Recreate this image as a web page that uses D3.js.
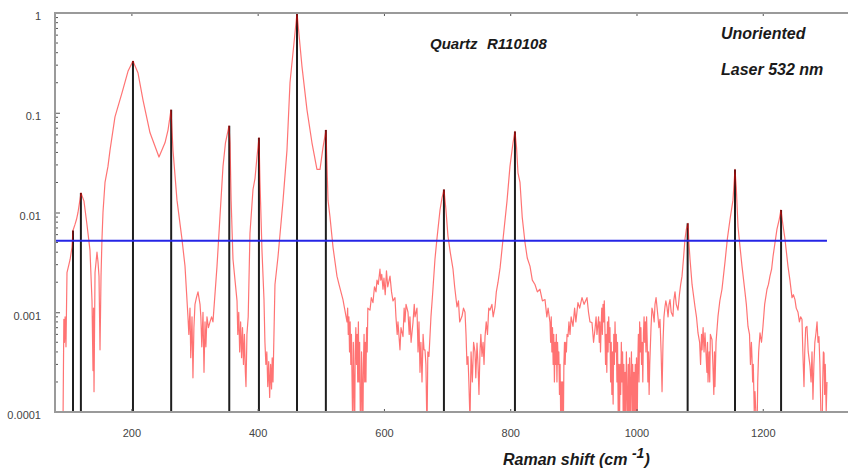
<!DOCTYPE html>
<html>
<head>
<meta charset="utf-8">
<script src="https://cdn.jsdelivr.net/npm/d3@7/dist/d3.min.js"></script>
<style>
  html, body { margin: 0; padding: 0; background: #fff; }
  svg { display: block; font-family: "Liberation Sans", Arial, sans-serif; }
</style>
</head>
<body>
<svg id="chart" width="848" height="473"></svg>
<script>
// ---- Data ----
const xTicks = [200, 400, 600, 800, 1000, 1200];
const yTicks = [0.0001, 0.001, 0.01, 0.1, 1];
const yTickLabels = ["0.0001", "0.001", "0.01", "0.1", "1"];

// Raman spectrum: [shift (cm-1), relative intensity]
const spectrum = [
  [91.7,8e-5],[93,0.00085],[94,0.0005],[95,0.0009],[96.4,0.00045],[98,0.0025],[101,0.003],[103,0.0034],[105.9,0.0045],
  [107.5,0.0066],[110.7,0.0076],[113,0.0085],[115.4,0.01],[120.2,0.0157],[124.9,0.013],[129.7,0.0075],[134.4,0.0042],
  [137.6,0.0013],[139.2,0.00026],[140,0.0011],[140.8,0.00016],[142.4,0.0025],[145.5,0.004],[147.1,0.0032],[148.7,0.0023],
  [150.3,0.00042],[151.9,0.0023],[153.4,0.0054],[155,0.01],[158.2,0.02],[162.9,0.029],[166.1,0.042],[174,0.091],
  [185.1,0.158],[194.6,0.26],[202.5,0.33],[210.5,0.25],[218.4,0.134],[229.5,0.063],[243.7,0.036],[253.2,0.05],[258,0.067],
  [262.7,0.107],[265.9,0.042],[272.2,0.0133],[280.1,0.0054],[284.9,0.0029],[289.6,0.0009],[291,0.0006],[292.8,0.0011],
  [294,0.00035],[296,0.0009],[297.5,0.00022],[299,0.0007],[300.7,0.0012],[303,0.0014],[305.5,0.0016],[308.7,0.0012],
  [310,0.0009],[311.5,0.00045],[313.4,0.001],[315,0.00025],[316.6,0.0008],[318,0.00045],[319.7,0.0009],[322,0.0007],
  [324.5,0.0008],[327,0.0009],[329.2,0.0008],[335.6,0.0029],[340.3,0.0091],[345.1,0.029],[349,0.05],[354.6,0.074],
  [356.2,0.05],[358,0.013],[360.9,0.0034],[367.3,0.0013],[368.5,0.0006],[370,0.001],[371.5,0.0004],[373,0.0008],
  [374.5,0.00035],[376,0.0007],[377.5,0.0003],[379,0.0006],[380.5,0.00025],[381.5,0.00018],[383,0.0006],[385,0.0009],
  [387.8,0.0062],[392.6,0.017],[395.8,0.022],[398.9,0.036],[402.1,0.056],[403.7,0.02],[406.8,0.0042],[410,0.00134],
  [411.5,0.0005],[413,0.0003],[414.5,0.0004],[416,0.00018],[417.5,0.00032],[419,0.00014],[420.5,0.0003],[422,0.00017],
  [423,0.00035],[424.3,0.0002],[427.4,0.0019],[432.2,0.0036],[440.1,0.013],[446.4,0.042],[451.2,0.2],[459.1,0.63],
  [462.3,1.0],[470.2,0.29],[478.1,0.107],[486,0.05],[493.9,0.027],[498.7,0.027],[503.5,0.045],[508.2,0.067],[511.4,0.0133],
  [514.5,0.0091],[519.3,0.0045],[525.6,0.0023],[528.8,0.0019],[535.1,0.00134],[541.5,0.0008],[542.5,0.0011],[543.5,0.0006],
  [544.5,0.0009],[545.5,0.0004],[546.5,0.0008],[547.5,0.0003],[548.5,0.0006],[549.5,0.0002],[550.5,7e-5],[551.5,0.0005],
  [552.5,0.0002],[553.5,5e-5],[554.5,0.0004],[555.5,0.0007],[556.5,0.0003],[557.5,0.0006],[558.5,0.0002],[559.5,0.0008],
  [560.5,0.0002],[561.5,0.0005],[562.5,0.0001],[563.5,6e-5],[564.5,0.0004],[565.5,0.0002],[566.5,5e-5],[567.5,0.0003],
  [568.5,0.0006],[569.5,0.0002],[570.5,0.0005],[571.5,0.0002],[572.5,0.0007],[573.5,0.0004],[574.5,0.0011],[577.9,0.00105],
  [580,0.0014],[582.6,0.00125],[585,0.0018],[587.4,0.0016],[589,0.0021],[591,0.0019],[593.7,0.0027],[595,0.0021],
  [596.5,0.0024],[598.5,0.0017],[600,0.0022],[602,0.0015],[604,0.0026],[606,0.0018],[609.6,0.0023],[612,0.0016],
  [614.3,0.0013],[617.5,0.0014],[619,0.0009],[621,0.0006],[622.2,0.0008],[625.4,0.00042],[627,0.0007],[630.2,0.00057],
  [632,0.0011],[633.3,0.0008],[635,0.0012],[638.1,0.001],[640,0.0006],[641.2,0.0009],[643,0.0005],[646,0.00079],
  [648,0.0012],[649.2,0.0009],[652.3,0.0011],[654,0.0004],[655.5,0.0008],[657.1,0.00025],[658.5,0.0005],[660.3,0.0002],
  [662,0.0006],[663.5,0.00042],[665,0.00042],[666.5,0.0003],[668.2,6e-5],[669.5,0.0004],[671.3,0.00036],[674.5,0.00091],
  [677,0.0015],[680.8,0.0034],[684,0.0055],[688.8,0.0106],[692,0.014],[695.1,0.017],[698,0.011],[701.4,0.0058],
  [705,0.004],[709.4,0.0027],[712,0.0018],[715.7,0.00113],[718,0.0013],[720,0.0008],[723.6,0.00091],[726,0.0011],
  [728.4,0.001],[730,0.0006],[731.5,0.0003],[733.1,0.00036],[734.5,0.0002],[736.3,8e-5],[738,0.0004],[740,0.0002],
  [742,0.0005],[744.2,0.0004],[745.5,0.00022],[747.4,0.00049],[749,0.0003],[750.5,0.00015],[752.1,0.0004],[753.5,0.0006],
  [755.3,0.00036],[757,0.0005],[758.5,0.0003],[760.1,0.00057],[762,0.0008],[764,0.0006],[766,0.0011],[768,0.00105],
  [771,0.0012],[773,0.0009],[775.9,0.00113],[778,0.0016],[780.7,0.002],[784,0.0028],[788.6,0.0054],[794.9,0.013],
  [799.6,0.029],[804.4,0.05],[807.5,0.065],[810,0.045],[812.3,0.025],[815.5,0.02],[819,0.009],[823.4,0.005],[827,0.0035],
  [831.3,0.0029],[835,0.0021],[839.2,0.0019],[843,0.0016],[847.1,0.0017],[851,0.0013],[855.1,0.00134],[858,0.0009],
  [860,0.0011],[863,0.00079],[864,0.0005],[865,0.0009],[866,0.0004],[867,0.0007],[868,0.0003],[869,0.0006],[870,0.0002],
  [871,0.0005],[872,0.0003],[873,0.0006],[874,0.0002],[875,0.0005],[876,0.0003],[877,0.0004],[878,0.00015],[879,0.0003],
  [880,8e-5],[881,0.0002],[882,5e-5],[883,0.0002],[884,5e-5],[885,0.0003],[886,0.0005],[887,0.0003],[888,0.0005],
  [889,0.0004],[890,0.0006],[891.5,0.00057],[893,0.0008],[894.7,0.0006],[896.5,0.0009],[899.4,0.00072],[902,0.0011],
  [904,0.0008],[907.3,0.00125],[910,0.0011],[913.7,0.0014],[917,0.0012],[921.6,0.0014],[924,0.001],[926.3,0.0008],
  [929.5,0.00079],[932,0.0005],[934.3,0.00068],[936,0.0009],[937.4,0.0006],[940,0.0009],[941,0.0005],[942,0.0008],
  [943,0.0004],[944,0.0007],[945,0.0011],[946,0.0006],[947,0.0012],[948,0.0008],[949,0.0013],[950,0.0007],[951,0.0003],
  [952,0.0006],[953,0.00025],[954,0.0008],[955,0.0004],[956,0.0009],[957,0.0005],[958,0.0007],[959,0.0002],[960,0.0005],
  [961,0.00015],[962,0.0004],[963,0.00012],[964,0.0006],[965,0.0003],[966,0.0008],[967,0.0004],[968,0.0006],[969,0.0002],
  [970,0.0005],[971,0.0001],[972,0.0003],[973,6e-5],[974,0.0003],[975,0.00015],[976,0.0005],[977,0.0002],[978,0.0004],
  [979,8e-5],[980,0.0003],[981,6e-5],[982,0.00025],[983,0.0001],[984,0.0004],[985,0.00015],[986,5e-5],[987,0.0003],
  [988,0.0001],[989,0.00035],[990,5e-5],[991,0.0002],[992,0.0004],[993,0.0001],[994,0.0003],[995,5e-5],[996,0.00025],
  [997,6e-5],[998,0.0003],[999,0.0001],[1000,0.00035],[1001,5e-5],[1002,0.0003],[1003,0.0006],[1004,0.0002],[1005,0.0008],
  [1006,0.0004],[1007,0.0007],[1008,0.0003],[1009,0.0005],[1010,0.0002],[1011,0.0006],[1012,0.0009],[1013,0.0005],
  [1014,0.0008],[1015,0.0004],[1016,0.0009],[1017,0.0005],[1018,0.0002],[1019,0.0004],[1020,0.00015],[1021,0.0003],
  [1023,0.0007],[1024.5,0.0011],[1026.1,0.001],[1028,0.0008],[1029.3,0.0012],[1031,0.0014],[1032.5,0.00113],[1034,0.0009],
  [1035.5,0.0007],[1037.2,0.00085],[1039,0.0004],[1040.5,0.00016],[1042,0.0005],[1043.5,0.0009],[1045.1,0.00113],
  [1046.5,0.0013],[1048.3,0.00113],[1050,0.0009],[1051.5,0.0012],[1053.1,0.00134],[1055,0.001],[1057.8,0.00091],
  [1059,0.0013],[1061,0.0016],[1063,0.0012],[1065.7,0.00105],[1068,0.0015],[1070,0.0019],[1072.1,0.0023],[1074.5,0.0035],
  [1076.8,0.0054],[1079,0.0068],[1081.6,0.0078],[1083,0.005],[1084.8,0.0034],[1088,0.0019],[1092.7,0.00113],[1095,0.0009],
  [1097.4,0.00062],[1100,0.0005],[1101.5,0.0003],[1103,0.0006],[1103.8,0.00042],[1105.5,0.0007],[1107,0.0004],
  [1108.5,0.00062],[1110,0.0004],[1111.5,0.00025],[1112.5,0.0005],[1113.3,0.0002],[1115,0.0004],[1116,0.0002],
  [1117,0.0006],[1119.6,0.00053],[1121,0.0003],[1122.5,0.00015],[1123.5,0.0004],[1124.3,0.00018],[1126,0.0005],
  [1129.1,0.00091],[1132,0.0013],[1135.4,0.0017],[1138,0.0024],[1140.2,0.0032],[1144,0.0055],[1148.1,0.0085],
  [1152.8,0.0133],[1156,0.027],[1158,0.018],[1160.8,0.0072],[1164,0.0045],[1167.1,0.0029],[1171.8,0.0016],[1174,0.0012],
  [1176.6,0.00072],[1179,0.0006],[1180.5,0.0003],[1182,0.0005],[1182.9,0.00036],[1184,0.0002],[1185,0.0003],[1186.5,0.0001],
  [1187.7,0.00016],[1189,0.0001],[1190.8,5e-5],[1192,0.0002],[1193.5,0.0004],[1195.6,0.00062],[1198,0.0005],[1200.3,0.00072],
  [1203,0.0012],[1206.7,0.0017],[1209,0.0019],[1211.4,0.0023],[1214,0.0027],[1216.2,0.0036],[1219,0.0048],[1222.5,0.0068],
  [1226,0.0085],[1228.8,0.0106],[1232,0.0075],[1235.2,0.0054],[1239.9,0.0029],[1243,0.0021],[1246.3,0.0014],[1248.5,0.0015],
  [1251,0.00134],[1253,0.0011],[1255.8,0.001],[1258,0.0008],[1260,0.0009],[1262.1,0.00085],[1263.5,0.0004],[1265.3,0.00018],
  [1266.5,0.0004],[1268,0.0007],[1270,0.00072],[1272,0.0004],[1274.8,0.00029],[1276.5,0.0002],[1278,0.0004],[1279.5,0.000134],
  [1281,0.0003],[1282.5,0.0005],[1284.3,0.00062],[1286,0.0008],[1287.5,0.0005],[1289,0.00057],[1290.5,0.0003],[1292,0.0001],
  [1293.8,5e-5],[1295,0.0002],[1296,0.0004],[1297,0.00039],[1298,0.00015],[1299,0.0003],[1300.5,0.0001],[1301.7,0.0002]
];

const peakShift  = [107.5, 120, 202.5, 263, 355, 402, 462.3, 508, 695, 807.5, 1081, 1156, 1229];
const peakHeight = [0.0066, 0.0157, 0.33, 0.107, 0.074, 0.056, 1.0, 0.067, 0.017, 0.065, 0.0078, 0.027, 0.0106];

const thresholdValue = 0.0052;
const thresholdRange = [79, 1301.7];

const titleText = "Quartz";
const idText = "R110108";
const noteLines = ["Unoriented", "Laser 532 nm"];
const xTitle = "Raman shift (cm";
const xTitleSup = "-1";

// ---- Chart ----
const L = 55, T = 13, R = 848, B = 412;
const svg = d3.select("#chart");

const x = d3.scaleLinear().domain([79, 1335]).range([L, R]);
const y = d3.scaleLog().domain([1e-4, 1]).range([B, T]);

svg.append("defs").append("clipPath").attr("id", "plotclip")
  .append("rect").attr("x", L).attr("y", T).attr("width", R - L).attr("height", B - T);

const plot = svg.append("g").attr("clip-path", "url(#plotclip)");

// peak markers
plot.selectAll("line.peak").data(peakShift).enter().append("line")
  .attr("class", "peak")
  .attr("x1", d => x(d)).attr("x2", d => x(d))
  .attr("y1", y(1e-4)).attr("y2", (d, i) => y(peakHeight[i]))
  .attr("stroke", "#1e1e1e").attr("stroke-width", 2);

// spectrum
plot.append("path").datum(spectrum)
  .attr("fill", "none")
  .attr("stroke", "rgba(255,0,0,0.55)")
  .attr("stroke-width", 1.2)
  .attr("stroke-linejoin", "round")
  .attr("d", d3.line().x(d => x(d[0])).y(d => y(Math.max(d[1], 3e-5))));

// threshold line
plot.append("line")
  .attr("x1", x(thresholdRange[0])).attr("x2", x(thresholdRange[1]))
  .attr("y1", y(thresholdValue)).attr("y2", y(thresholdValue))
  .attr("stroke", "#2525e6").attr("stroke-width", 2);

// axes
const axisColor = "#9a9a9a";
const tickColor = "#555";
const labelColor = "#444";

const gx = svg.append("g").attr("transform", `translate(0,${B})`)
  .call(d3.axisBottom(x).tickValues(xTicks).tickSize(-3).tickPadding(17).tickFormat(d3.format("d")));
gx.select(".domain").remove();
gx.selectAll(".tick line").attr("stroke", tickColor);
gx.selectAll(".tick text").attr("fill", labelColor).attr("font-size", 11)
  .attr("font-family", "'Liberation Sans', Arial, sans-serif");

const gxt = svg.append("g").attr("transform", `translate(0,${T})`)
  .call(d3.axisTop(x).tickValues(xTicks).tickSize(-3).tickFormat(""));
gxt.select(".domain").remove();
gxt.selectAll(".tick line").attr("stroke", tickColor);

const gy = svg.append("g").attr("transform", `translate(${L},0)`)
  .call(d3.axisLeft(y).tickValues(yTicks).tickSize(-5).tickPadding(14)
    .tickFormat((d, i) => yTickLabels[i]));
gy.select(".domain").remove();
gy.selectAll(".tick line").attr("stroke", tickColor);
gy.selectAll(".tick text").attr("fill", labelColor).attr("font-size", 11).attr("dy", "0.62em")
  .attr("font-family", "'Liberation Sans', Arial, sans-serif");

// minor y ticks
const minor = [];
for (let e = -4; e < 0; e++) for (let m = 2; m <= 9; m++) minor.push(m * Math.pow(10, e));
svg.append("g").selectAll("line").data(minor).enter().append("line")
  .attr("x1", L).attr("x2", L + 3)
  .attr("y1", d => y(d)).attr("y2", d => y(d))
  .attr("stroke", tickColor).attr("stroke-width", 1);

// frame lines
svg.append("line").attr("x1", L).attr("x2", R).attr("y1", T).attr("y2", T)
  .attr("stroke", axisColor).attr("stroke-width", 2);
svg.append("line").attr("x1", L).attr("x2", R).attr("y1", B).attr("y2", B)
  .attr("stroke", axisColor).attr("stroke-width", 2);
svg.append("line").attr("x1", L).attr("x2", L).attr("y1", T - 1).attr("y2", B + 1)
  .attr("stroke", axisColor).attr("stroke-width", 2);

// annotations
const ann = svg.append("g").attr("font-weight", "bold").attr("font-style", "italic")
  .attr("fill", "#1a1a1a");
ann.append("text").attr("x", 430).attr("y", 49).attr("font-size", 15).text(titleText);
ann.append("text").attr("x", 487).attr("y", 49).attr("font-size", 15).text(idText);
ann.append("text").attr("x", 721).attr("y", 39).attr("font-size", 16).text(noteLines[0]);
ann.append("text").attr("x", 721).attr("y", 75).attr("font-size", 16).text(noteLines[1]);

const xt = ann.append("text").attr("x", 503).attr("y", 465).attr("font-size", 16);
xt.append("tspan").text(xTitle + " ");
xt.append("tspan").attr("dy", -7).attr("font-size", 14).text(xTitleSup);
xt.append("tspan").attr("dy", 7).text(")");
</script>
</body>
</html>
